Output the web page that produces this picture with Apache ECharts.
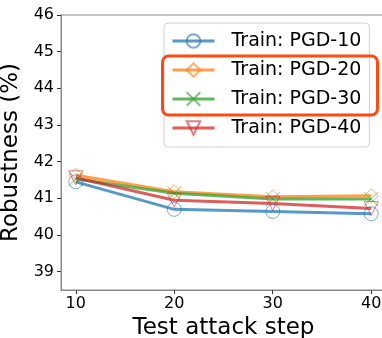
<!DOCTYPE html>
<html><head><meta charset="utf-8">
<script src="https://cdn.jsdelivr.net/npm/echarts@6/dist/echarts.min.js"></script>
<style>html,body{margin:0;padding:0;background:#fff}#c{width:382px;height:338px}</style>
</head><body><div id="c"></div>
<script>
const steps = [10, 20, 30, 40];
const yTicks = [39, 40, 41, 42, 43, 44, 45, 46];
const seriesNames = ['Train: PGD-10', 'Train: PGD-20', 'Train: PGD-30', 'Train: PGD-40'];
const pgd10 = [41.45, 40.70, 40.64, 40.58];
const pgd20 = [41.63, 41.18, 41.04, 41.07];
const pgd30 = [41.53, 41.14, 40.98, 40.98];
const pgd40 = [41.56, 40.95, 40.86, 40.72];
const values = [pgd10, pgd20, pgd30, pgd40];
const colors = ['#1f77b4', '#ff7f0e', '#2ca02c', '#d62728'];
const symbols = ['circle', 'path://M5,0L10,5L5,10L0,5Z', 'path://M0,0L10,10M10,0L0,10', 'path://M0,0L10,0L5,9Z'];
const font = 'DejaVu Sans';

const chart = echarts.init(document.getElementById('c'), null, {renderer: 'canvas'});
chart.setOption({
  animation: false,
  textStyle: {fontFamily: font},
  grid: {left: 61, top: 15, right: -4, bottom: 48, show: true, borderColor: '#888', borderWidth: 1,
         containLabel: false, outerBoundsMode: 'none'},
  xAxis: {
    type: 'value', min: 8.5, max: 41.5,
    name: 'Test attack step', nameLocation: 'middle', nameGap: 25,
    nameTextStyle: {fontSize: 23, color: '#000', fontFamily: font},
    axisLine: {show: true, lineStyle: {color: '#888', width: 1}},
    axisTick: {show: true, length: 4, lineStyle: {color: '#333'}, customValues: steps},
    axisLabel: {fontSize: 16, color: '#000', margin: 6, fontFamily: font, customValues: steps},
    splitLine: {show: false}
  },
  yAxis: {
    type: 'value', min: 38.5, max: 46,
    name: 'Robustness (%)', nameLocation: 'middle', nameGap: 31, nameRotate: 90,
    nameTextStyle: {fontSize: 23, color: '#000', fontFamily: font},
    axisLine: {show: true, lineStyle: {color: '#888', width: 1}},
    axisTick: {show: true, length: 4, lineStyle: {color: '#333'}, customValues: yTicks},
    axisLabel: {fontSize: 16, color: '#000', margin: 7, fontFamily: font, customValues: yTicks},
    splitLine: {show: false}
  },
  legend: {
    orient: 'vertical', left: 164, top: 23,
    padding: [7, 8, 8, 7],
    itemWidth: 42, itemHeight: 17, itemGap: 7,
    backgroundColor: 'rgba(255,255,255,0.85)',
    borderColor: '#d0d0d0', borderWidth: 1, borderRadius: 4,
    lineStyle: {width: 3},
    textStyle: {fontSize: 19, color: '#000', fontFamily: font, lineHeight: 22, padding: [0, 0, 0, 12]},
    data: seriesNames
  },
  series: values.map((v, i) => ({
    name: seriesNames[i], type: 'line',
    data: steps.map((s, j) => [s, v[j]]),
    symbol: symbols[i], symbolSize: 14, showSymbol: true,
    lineStyle: {color: colors[i], width: 3, opacity: 0.75},
    itemStyle: {color: 'rgba(0,0,0,0)', borderColor: colors[i], borderWidth: 1, opacity: 0.6},
    emphasis: {disabled: true}
  })),
  graphic: [{
    type: 'rect', z: 100,
    shape: {x: 162.5, y: 56, width: 215, height: 59, r: 6},
    style: {fill: 'none', stroke: '#fc4a10', lineWidth: 3}
  }]
});
</script></body></html>
